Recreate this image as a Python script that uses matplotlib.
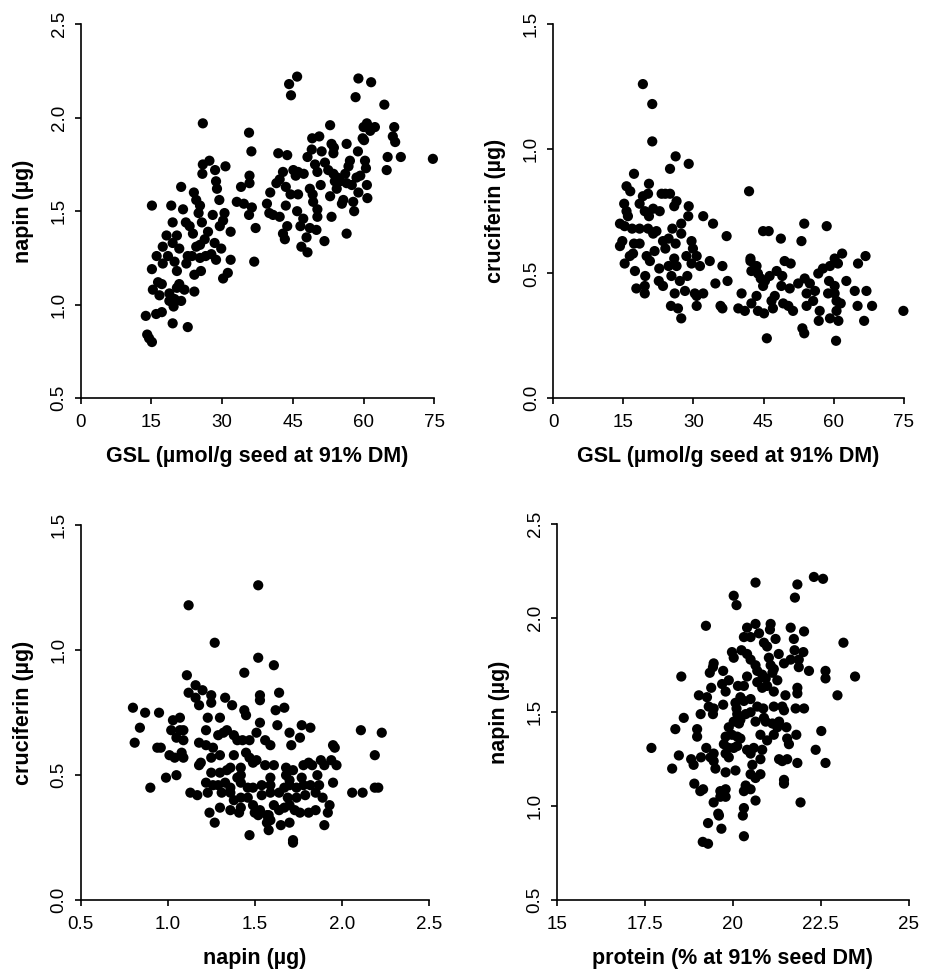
# Cuatro diagramas de dispersion (estilo R): GSL, napina, cruciferina y proteina
import matplotlib
matplotlib.use("Agg")
import matplotlib.pyplot as plt

plt.rcParams['font.family'] = ['Liberation Sans', 'DejaVu Sans']

# Panel superior izquierdo: GSL vs napin
gsl_a = [44.2, 45.9, 44.6, 58.9, 61.6, 58.3, 64.4, 25.9, 35.7, 36.2, 74.7, 52.9,
         60.7, 60.0, 62.4, 61.4, 66.5, 66.2, 66.7, 65.1, 67.9, 64.9, 49.1, 50.6,
         53.2, 53.7, 53.6, 56.4, 59.8, 60.1, 58.8, 60.3, 60.5, 41.9, 43.8, 49.0,
         48.1, 51.1, 51.8, 49.7, 50.2, 57.1, 56.8, 56.1, 52.5, 53.6, 54.4, 53.9,
         55.0, 54.3, 56.4, 57.5, 58.5, 59.3, 60.7, 58.9, 60.8, 57.8, 58.0, 55.7,
         55.4, 52.9, 53.2, 50.9, 56.4, 51.7, 42.9, 45.1, 46.1, 47.3, 45.6, 42.2,
         41.5, 43.5, 40.2, 44.5, 46.1, 48.6, 49.2, 49.3, 50.2, 50.2, 39.5, 43.5,
         40.0, 40.8, 42.2, 45.9, 47.2, 46.6, 43.8, 48.6, 50.0, 47.9, 42.9, 43.3,
         46.8, 48.1, 34.0, 33.1, 34.6, 35.8, 35.8, 36.3, 35.7, 37.1, 36.8, 27.3,
         25.9, 25.8, 28.5, 30.7, 28.7, 28.9, 29.4, 21.3, 24.0, 24.5, 25.3, 25.0,
         25.7, 19.2, 21.7, 15.1, 19.5, 22.3, 23.1, 28.0, 30.5, 30.2, 29.5, 31.8,
         18.2, 20.4, 23.8, 27.0, 26.3, 24.5, 25.3, 28.4, 29.8, 27.7, 17.4, 19.5,
         20.9, 22.7, 23.6, 16.1, 18.5, 17.4, 19.9, 25.3, 26.5, 28.7, 31.8, 22.4,
         15.1, 20.4, 24.1, 25.5, 31.2, 30.2, 16.4, 17.2, 20.9, 20.4, 15.3, 16.7,
         18.8, 22.0, 24.1, 19.9, 21.3, 18.8, 19.7, 13.8, 16.0, 17.2, 19.5, 22.7,
         14.1, 14.5, 15.1]
napin_a = [2.18, 2.22, 2.12, 2.21, 2.19, 2.11, 2.07, 1.97, 1.92, 1.82, 1.78, 1.96,
           1.97, 1.95, 1.95, 1.93, 1.95, 1.90, 1.87, 1.79, 1.79, 1.72, 1.89, 1.90,
           1.86, 1.84, 1.81, 1.86, 1.89, 1.88, 1.82, 1.77, 1.73, 1.81, 1.80, 1.83,
           1.79, 1.82, 1.76, 1.75, 1.71, 1.77, 1.74, 1.70, 1.72, 1.70, 1.68, 1.66,
           1.66, 1.62, 1.65, 1.64, 1.68, 1.69, 1.64, 1.60, 1.57, 1.55, 1.50, 1.56,
           1.54, 1.58, 1.47, 1.64, 1.38, 1.34, 1.71, 1.72, 1.71, 1.70, 1.69, 1.67,
           1.65, 1.63, 1.60, 1.59, 1.59, 1.62, 1.59, 1.55, 1.51, 1.47, 1.54, 1.53,
           1.49, 1.48, 1.47, 1.50, 1.46, 1.42, 1.42, 1.41, 1.40, 1.36, 1.38, 1.35,
           1.31, 1.28, 1.63, 1.55, 1.54, 1.69, 1.65, 1.52, 1.48, 1.41, 1.23, 1.77,
           1.75, 1.70, 1.72, 1.74, 1.66, 1.62, 1.56, 1.63, 1.60, 1.56, 1.53, 1.49,
           1.44, 1.53, 1.51, 1.53, 1.44, 1.44, 1.42, 1.48, 1.49, 1.45, 1.42, 1.39,
           1.37, 1.37, 1.38, 1.39, 1.35, 1.31, 1.32, 1.33, 1.30, 1.27, 1.31, 1.33,
           1.30, 1.26, 1.26, 1.26, 1.26, 1.22, 1.23, 1.25, 1.26, 1.24, 1.24, 1.22,
           1.19, 1.18, 1.16, 1.18, 1.17, 1.14, 1.12, 1.11, 1.11, 1.09, 1.08, 1.05,
           1.06, 1.08, 1.07, 1.03, 1.02, 1.02, 0.99, 0.94, 0.95, 0.96, 0.90, 0.88,
           0.84, 0.82, 0.80]

# Panel superior derecho: GSL vs cruciferin
gsl_b = [19.2, 21.2, 21.2, 26.2, 29.0, 25.0, 17.3, 41.9, 15.7, 16.5, 20.5, 20.3,
         19.2, 18.5, 23.2, 24.0, 25.0, 26.4, 25.9, 29.0, 28.9, 15.2, 15.7, 16.0,
         19.6, 20.5, 21.4, 22.8, 32.1, 34.2, 14.3, 15.3, 16.9, 18.5, 20.3, 21.4,
         22.1, 27.4, 25.5, 27.4, 37.1, 44.9, 46.1, 53.7, 58.5, 48.7, 53.1, 14.3,
         14.8, 17.3, 18.5, 23.5, 24.7, 26.2, 29.6, 29.9, 21.7, 24.0, 20.0, 20.7,
         17.1, 16.4, 15.3, 25.9, 28.5, 30.7, 31.4, 29.6, 33.5, 22.7, 24.7, 26.4,
         25.3, 27.1, 28.7, 17.5, 19.7, 19.6, 19.6, 17.8, 22.6, 23.5, 34.7, 37.3,
         36.2, 26.0, 28.2, 30.3, 32.1, 30.7, 25.2, 26.7, 27.4, 30.7, 35.8, 36.2,
         39.6, 41.0, 40.3, 42.2, 42.2, 43.5, 42.4, 43.8, 44.4, 45.3, 44.9, 46.3,
         47.8, 49.0, 49.5, 50.8, 48.8, 50.6, 52.4, 53.8, 54.9, 56.0, 43.5, 42.4,
         43.8, 45.1, 46.7, 47.0, 47.4, 49.2, 50.3, 51.3, 54.2, 54.2, 55.6, 57.0,
         56.8, 56.7, 57.7, 59.2, 60.2, 60.9, 61.8, 59.0, 60.2, 58.8, 60.2, 60.6,
         61.5, 60.6, 59.2, 61.0, 62.7, 64.5, 67.0, 65.2, 66.8, 65.1, 68.2, 66.5,
         74.9, 53.3, 53.7, 45.7, 60.5]
cruc_b = [1.26, 1.18, 1.03, 0.97, 0.94, 0.92, 0.90, 0.83, 0.85, 0.83, 0.86, 0.82,
          0.81, 0.78, 0.82, 0.82, 0.82, 0.79, 0.77, 0.77, 0.73, 0.78, 0.75, 0.73,
          0.75, 0.73, 0.76, 0.75, 0.73, 0.70, 0.70, 0.69, 0.68, 0.68, 0.68, 0.66,
          0.67, 0.70, 0.68, 0.66, 0.65, 0.67, 0.67, 0.70, 0.69, 0.64, 0.63, 0.61,
          0.63, 0.62, 0.62, 0.63, 0.64, 0.62, 0.63, 0.60, 0.59, 0.60, 0.57, 0.55,
          0.58, 0.57, 0.54, 0.56, 0.57, 0.57, 0.53, 0.54, 0.55, 0.52, 0.53, 0.53,
          0.49, 0.47, 0.49, 0.51, 0.49, 0.45, 0.42, 0.44, 0.47, 0.45, 0.46, 0.47,
          0.53, 0.42, 0.43, 0.42, 0.42, 0.41, 0.37, 0.36, 0.32, 0.37, 0.37, 0.36,
          0.36, 0.35, 0.42, 0.56, 0.55, 0.53, 0.51, 0.50, 0.48, 0.47, 0.45, 0.49,
          0.51, 0.49, 0.55, 0.54, 0.45, 0.44, 0.46, 0.48, 0.46, 0.43, 0.41, 0.38,
          0.35, 0.34, 0.39, 0.36, 0.41, 0.38, 0.37, 0.35, 0.42, 0.37, 0.39, 0.35,
          0.31, 0.50, 0.52, 0.53, 0.56, 0.54, 0.58, 0.47, 0.45, 0.42, 0.42, 0.39,
          0.38, 0.35, 0.32, 0.31, 0.47, 0.43, 0.43, 0.54, 0.57, 0.37, 0.37, 0.31,
          0.35, 0.28, 0.26, 0.24, 0.23]

# Panel inferior izquierdo: napin vs cruciferin
napin_c = [1.52, 1.12, 1.27, 1.52, 1.44, 1.61, 1.11, 1.16, 1.20, 1.12, 1.16, 1.18,
           1.25, 1.25, 1.33, 1.37, 1.53, 1.53, 1.64, 1.44, 1.45, 1.62, 1.67, 0.80,
           0.81, 0.84, 0.87, 0.95, 1.03, 1.07, 1.02, 1.07, 1.09, 1.23, 1.30, 1.53,
           1.63, 1.77, 1.82, 2.11, 2.23, 1.22, 1.29, 1.32, 1.34, 1.70, 1.76, 1.05,
           1.09, 1.18, 1.22, 1.26, 1.38, 1.40, 1.43, 1.47, 1.51, 1.56, 1.59, 1.71,
           1.95, 1.96, 0.94, 0.96, 1.01, 1.04, 1.08, 1.09, 1.25, 1.30, 1.38, 1.45,
           1.47, 2.19, 1.18, 1.19, 1.36, 1.42, 1.49, 1.51, 1.56, 1.61, 1.68, 1.72,
           1.78, 1.81, 1.83, 1.88, 1.90, 1.94, 1.97, 0.99, 1.05, 1.25, 1.30, 1.34,
           1.40, 1.42, 1.59, 1.68, 1.70, 1.77, 1.86, 1.22, 1.26, 1.29, 1.33, 1.36,
           1.42, 1.46, 1.49, 1.54, 1.59, 1.67, 1.70, 1.74, 1.78, 1.82, 1.87, 1.95,
           0.90, 1.23, 1.31, 1.36, 1.13, 1.17, 2.06, 2.12, 2.19, 2.21, 1.38, 1.42,
           1.46, 1.54, 1.59, 1.64, 1.69, 1.74, 1.79, 1.85, 1.89, 1.30, 1.36, 1.41,
           1.42, 1.49, 1.50, 1.53, 1.57, 1.61, 1.64, 1.67, 1.70, 1.73, 1.76, 1.81,
           1.85, 1.92, 1.93, 1.24, 1.27, 1.52, 1.58, 1.59, 1.57, 1.65, 1.70, 1.90,
           1.58, 1.47, 1.72, 1.72]
cruc_c = [1.26, 1.18, 1.03, 0.97, 0.91, 0.94, 0.90, 0.86, 0.84, 0.83, 0.81, 0.78,
          0.82, 0.79, 0.81, 0.78, 0.82, 0.80, 0.83, 0.76, 0.74, 0.76, 0.77, 0.77,
          0.63, 0.69, 0.75, 0.75, 0.72, 0.73, 0.68, 0.68, 0.68, 0.73, 0.73, 0.71,
          0.70, 0.70, 0.69, 0.68, 0.67, 0.68, 0.66, 0.67, 0.68, 0.67, 0.65, 0.65,
          0.64, 0.63, 0.62, 0.61, 0.66, 0.64, 0.64, 0.64, 0.67, 0.64, 0.62, 0.62,
          0.62, 0.61, 0.61, 0.61, 0.58, 0.57, 0.59, 0.57, 0.57, 0.58, 0.58, 0.59,
          0.57, 0.58, 0.54, 0.55, 0.53, 0.53, 0.55, 0.56, 0.54, 0.54, 0.53, 0.52,
          0.54, 0.55, 0.54, 0.56, 0.54, 0.56, 0.54, 0.49, 0.50, 0.51, 0.51, 0.52,
          0.49, 0.50, 0.49, 0.50, 0.48, 0.49, 0.50, 0.47, 0.46, 0.46, 0.47, 0.45,
          0.47, 0.45, 0.45, 0.46, 0.46, 0.45, 0.46, 0.45, 0.46, 0.46, 0.46, 0.47,
          0.45, 0.43, 0.43, 0.43, 0.43, 0.42, 0.43, 0.43, 0.45, 0.45, 0.40, 0.41,
          0.41, 0.42, 0.43, 0.43, 0.41, 0.41, 0.42, 0.43, 0.41, 0.37, 0.36, 0.35,
          0.37, 0.38, 0.35, 0.36, 0.34, 0.38, 0.36, 0.37, 0.38, 0.36, 0.35, 0.35,
          0.36, 0.35, 0.38, 0.35, 0.31, 0.34, 0.34, 0.32, 0.31, 0.30, 0.31, 0.30,
          0.28, 0.26, 0.24, 0.23]

# Panel inferior derecho: protein vs napin
prot_d = [22.31, 22.57, 20.65, 21.84, 20.03, 20.11, 21.77, 19.24, 20.41, 20.65, 21.08, 21.06,
          21.65, 22.03, 20.32, 20.51, 20.75, 20.89, 20.98, 21.22, 23.15, 21.74, 21.76, 22.01,
          19.98, 20.03, 20.25, 20.41, 20.51, 20.65, 20.70, 21.03, 21.08, 21.17, 21.31, 21.46,
          21.65, 21.88, 21.88, 22.17, 22.64, 22.64, 23.48, 22.98, 19.46, 19.44, 19.35, 19.73,
          19.70, 19.80, 18.54, 19.89, 20.15, 20.32, 20.41, 20.84, 20.94, 21.13, 21.27, 20.70,
          20.84, 20.98, 21.17, 19.39, 19.04, 19.27, 21.50, 21.84, 21.84, 20.22, 20.32, 20.51,
          19.09, 19.32, 19.46, 19.44, 19.73, 20.08, 20.11, 20.37, 20.51, 20.70, 20.87, 20.89,
          21.17, 21.41, 21.46, 21.79, 22.03, 20.13, 20.22, 20.03, 20.18, 20.65, 20.94, 21.13,
          21.32, 18.61, 18.37, 18.99, 18.99, 19.89, 19.98, 20.13, 20.22, 19.80, 21.27, 21.17,
          20.98, 20.79, 21.53, 21.55, 21.60, 21.81, 22.52, 17.69, 19.25, 19.46, 19.37, 19.75,
          19.89, 20.03, 20.13, 20.41, 20.51, 20.60, 20.84, 20.79, 22.36, 18.47, 18.82, 18.89,
          19.10, 19.46, 19.51, 19.80, 19.89, 18.28, 20.56, 20.51, 20.65, 20.79, 21.32, 21.41,
          21.55, 21.84, 22.64, 19.80, 20.08, 21.46, 21.46, 18.91, 19.08, 19.16, 19.65, 19.80,
          19.65, 20.37, 20.51, 20.32, 19.80, 19.46, 20.65, 21.93, 20.32, 20.29, 19.59, 19.61,
          19.30, 19.68, 20.32, 19.15, 19.30]
napin_d = [2.22, 2.21, 2.19, 2.18, 2.12, 2.07, 2.11, 1.96, 1.95, 1.97, 1.97, 1.94,
           1.95, 1.93, 1.90, 1.90, 1.92, 1.87, 1.85, 1.89, 1.87, 1.89, 1.83, 1.82,
           1.82, 1.79, 1.83, 1.81, 1.78, 1.75, 1.72, 1.79, 1.75, 1.73, 1.81, 1.76,
           1.78, 1.78, 1.74, 1.72, 1.72, 1.68, 1.69, 1.59, 1.76, 1.74, 1.71, 1.72,
           1.65, 1.61, 1.69, 1.67, 1.64, 1.64, 1.69, 1.70, 1.68, 1.71, 1.67, 1.66,
           1.63, 1.64, 1.61, 1.63, 1.59, 1.58, 1.59, 1.63, 1.60, 1.58, 1.56, 1.57,
           1.49, 1.53, 1.52, 1.49, 1.54, 1.55, 1.52, 1.49, 1.50, 1.53, 1.52, 1.47,
           1.53, 1.53, 1.51, 1.52, 1.52, 1.49, 1.46, 1.45, 1.44, 1.45, 1.45, 1.44,
           1.45, 1.47, 1.41, 1.41, 1.37, 1.42, 1.38, 1.37, 1.36, 1.37, 1.42, 1.38,
           1.35, 1.38, 1.42, 1.36, 1.33, 1.38, 1.40, 1.31, 1.31, 1.28, 1.26, 1.33,
           1.31, 1.31, 1.32, 1.30, 1.28, 1.31, 1.30, 1.25, 1.30, 1.27, 1.25, 1.22,
           1.26, 1.24, 1.20, 1.28, 1.26, 1.20, 1.22, 1.17, 1.15, 1.17, 1.25, 1.24,
           1.25, 1.23, 1.23, 1.18, 1.19, 1.14, 1.12, 1.12, 1.08, 1.09, 1.08, 1.09,
           1.05, 1.11, 1.09, 1.08, 1.05, 1.02, 1.03, 1.02, 0.99, 0.95, 0.96, 0.95,
           0.91, 0.88, 0.84, 0.81, 0.80]

gsl_ticks = [0, 15, 30, 45, 60, 75]
napin_ticks = [0.5, 1.0, 1.5, 2.0, 2.5]
cruc_ticks = [0.0, 0.5, 1.0, 1.5]
napin_x_ticks = [0.5, 1.0, 1.5, 2.0, 2.5]
prot_ticks = [15, 17.5, 20, 22.5, 25]

fig = plt.figure(figsize=(9.28, 9.71), dpi=100)

# posiciones de los ejes (fraccion de la figura)
ax1 = fig.add_axes([0.087, 0.590, 0.381, 0.385])
ax2 = fig.add_axes([0.596, 0.590, 0.378, 0.385])
ax3 = fig.add_axes([0.087, 0.073, 0.375, 0.386])
ax4 = fig.add_axes([0.600, 0.073, 0.379, 0.387])


def estilo_r(ax, x, y, xticks, yticks, xlabel, ylabel, xfmt, yfmt):
    ax.scatter(x, y, s=54, color='black', edgecolors='none', clip_on=False, zorder=3)
    ax.set_xlim(xticks[0], xticks[-1])
    ax.set_ylim(yticks[0], yticks[-1])
    ax.set_xticks(xticks)
    ax.set_yticks(yticks)
    ax.set_xticklabels([xfmt(v) for v in xticks])
    ax.set_yticklabels([yfmt(v) for v in yticks], rotation=90, va='center')
    ax.spines['top'].set_visible(False)
    ax.spines['right'].set_visible(False)
    ax.spines['left'].set_linewidth(1.2)
    ax.spines['bottom'].set_linewidth(1.2)
    ax.tick_params(direction='out', length=4.5, width=1.2, labelsize=13.5)
    ax.tick_params(axis='x', pad=7)
    ax.tick_params(axis='y', pad=5)
    ax.set_xlabel(xlabel, fontsize=15.5, fontweight='bold', labelpad=10.5)
    ax.set_ylabel(ylabel, fontsize=15.5, fontweight='bold', labelpad=12)


entero = lambda v: '%d' % v
un_dec = lambda v: '%.1f' % v
prot_fmt = lambda v: ('%g' % v)

estilo_r(ax1, gsl_a, napin_a, gsl_ticks, napin_ticks,
         'GSL (µmol/g seed at 91% DM)', 'napin (µg)', entero, un_dec)
estilo_r(ax2, gsl_b, cruc_b, gsl_ticks, cruc_ticks,
         'GSL (µmol/g seed at 91% DM)', 'cruciferin (µg)', entero, un_dec)
estilo_r(ax3, napin_c, cruc_c, napin_x_ticks, cruc_ticks,
         'napin (µg)', 'cruciferin (µg)', un_dec, un_dec)
estilo_r(ax4, prot_d, napin_d, prot_ticks, napin_ticks,
         'protein (% at 91% seed DM)', 'napin (µg)', prot_fmt, un_dec)

plt.savefig('out.png', dpi=100)
